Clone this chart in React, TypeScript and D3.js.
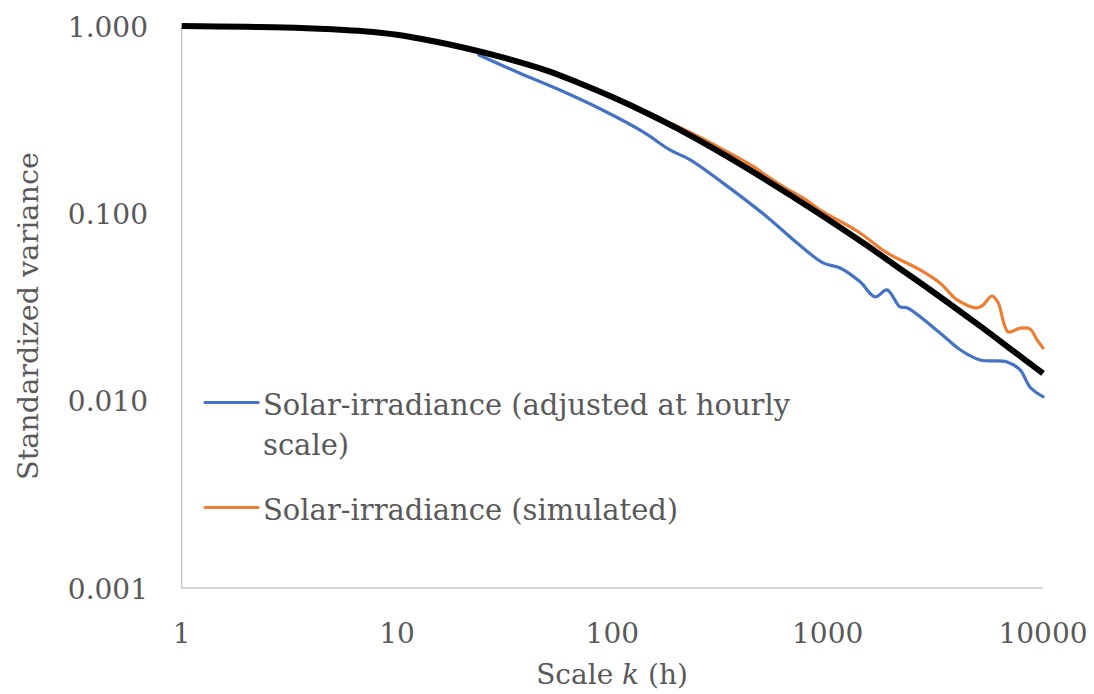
import * as d3 from "d3";
import React from "react";

// scale k (hours) and standardized variance
const kTheory = [1, 2, 3, 5, 7, 10, 15, 20, 30, 50, 70, 100, 150, 200, 300, 500, 700, 1000, 1500, 2000, 3000, 5000, 7000, 10000];
const vTheory = [1.0, 0.99, 0.983, 0.96, 0.938, 0.898, 0.826, 0.77, 0.686, 0.576, 0.496, 0.4174, 0.336, 0.2838, 0.2193, 0.1545, 0.1212, 0.0931, 0.0682, 0.054, 0.039, 0.02544, 0.01904, 0.01397];

const kAdjusted = [24, 37, 57, 90, 139, 185, 230, 327, 523, 721, 952, 1142, 1414, 1660, 1885, 2166, 2335, 3324, 4120, 5100, 6810, 7830, 8710, 10000];
const vAdjusted = [0.7, 0.561, 0.455, 0.356, 0.272, 0.218, 0.193, 0.145, 0.0957, 0.0695, 0.0544, 0.0511, 0.0431, 0.0358, 0.039, 0.0317, 0.0313, 0.023, 0.0187, 0.0165, 0.0161, 0.0146, 0.0118, 0.0105];

const kSimulated = [24, 50, 100, 150, 206, 327, 451, 523, 621, 803, 922, 1370, 1888, 2687, 3324, 3990, 4940, 5270, 5800, 6190, 6890, 7830, 8710, 9390, 10000];
const vSimulated = [0.736, 0.576, 0.4174, 0.337, 0.287, 0.219, 0.178, 0.158, 0.139, 0.117, 0.104, 0.0805, 0.0615, 0.0499, 0.0425, 0.0345, 0.0313, 0.0324, 0.0362, 0.0333, 0.0233, 0.0244, 0.0241, 0.0211, 0.0191];

const xTicks = [1, 10, 100, 1000, 10000];
const yTicks = [0.001, 0.01, 0.1, 1];

const W = 1094;
const H = 694;
const margin = { top: 26, right: 51, bottom: 106, left: 181.7 };
const FONT = "'DejaVu Serif', serif";
const TEXT = "#595959";

export default function App() {
  const x = d3.scaleLog().domain([1, 10000]).range([margin.left, W - margin.right]);
  const y = d3.scaleLog().domain([0.001, 1]).range([H - margin.bottom, margin.top]);

  const line = d3
    .line<[number, number]>()
    .x((d) => x(d[0]))
    .y((d) => y(d[1]))
    .curve(d3.curveCatmullRom.alpha(0.5));

  const zip = (ks: number[], vs: number[]) => ks.map((k, i) => [k, vs[i]] as [number, number]);

  const y0 = H - margin.bottom;

  return (
    <svg width={W} height={H} style={{ position: "absolute", left: 0, top: 0, background: "#fff" }} fontFamily={FONT}>
      <line x1={x(1)} x2={x(1)} y1={y(1)} y2={y0} stroke="#c9c9c9" strokeWidth={1.5} />
      <line x1={x(1)} x2={x(10000)} y1={y0} y2={y0} stroke="#c9c9c9" strokeWidth={1.5} />

      {yTicks.map((t) => (
        <text key={t} x={148} y={y(t) + 10.5} textAnchor="end" fontSize={28} fill={TEXT}>
          {t.toFixed(3)}
        </text>
      ))}
      {xTicks.map((t) => (
        <text key={t} x={x(t)} y={643} textAnchor="middle" fontSize={28} fill={TEXT}>
          {t}
        </text>
      ))}

      <text x={612} y={684} textAnchor="middle" fontSize={28} fill={TEXT}>
        Scale <tspan fontStyle="italic">k</tspan> (h)
      </text>
      <text transform={`translate(38, ${316}) rotate(-90)`} textAnchor="middle" fontSize={28.7} fill={TEXT}>
        Standardized variance
      </text>

      <path d={line(zip(kSimulated, vSimulated)) ?? ""} fill="none" stroke="#ED7D31" strokeWidth={3.2} strokeLinecap="round" />
      <path d={line(zip(kAdjusted, vAdjusted)) ?? ""} fill="none" stroke="#4472C4" strokeWidth={3.2} strokeLinecap="round" />
      <path d={line(zip(kTheory, vTheory)) ?? ""} fill="none" stroke="#000" strokeWidth={6} />

      <g fontSize={29} fill={TEXT}>
        <line x1={205} x2={258} y1={402.5} y2={402.5} stroke="#4472C4" strokeWidth={3.2} strokeLinecap="round" />
        <text x={263} y={415}>Solar-irradiance (adjusted at hourly</text>
        <text x={263} y={455}>scale)</text>
        <line x1={205} x2={258} y1={507.5} y2={507.5} stroke="#ED7D31" strokeWidth={3.2} strokeLinecap="round" />
        <text x={263} y={520}>Solar-irradiance (simulated)</text>
      </g>
    </svg>
  );
}
